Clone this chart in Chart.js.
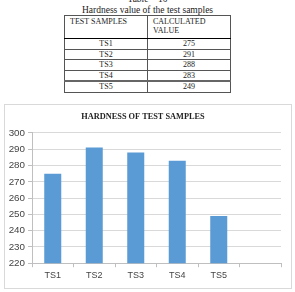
<!DOCTYPE html>
<html><head><meta charset="utf-8">
<script src="https://cdn.jsdelivr.net/npm/chart.js@4/dist/chart.umd.min.js"></script>
<style>
html,body{margin:0;padding:0;background:#fff;width:295px;height:292px;overflow:hidden;position:relative;font-family:"Liberation Serif","Times New Roman",serif;}
.cap{position:absolute;left:0;width:295px;text-align:center;font-size:9.5px;color:#222;line-height:10px;}
table{position:absolute;left:64px;top:15px;width:167px;border-collapse:collapse;font-size:8px;color:#222;}
td{border:1px solid #555;padding:0 5px;line-height:9px;height:9.5px;color:#222;}
td.c{text-align:center;}
tr.h td{vertical-align:top;height:21px;border-bottom:1.5px solid #000;padding-top:1px;}
tr.l td{border-top:2px solid #666;}
#box{position:absolute;left:4px;top:104px;width:286px;height:183px;border:1px solid #d9d9d9;}
canvas{position:absolute;left:5px;top:105px;}
</style></head><body>
<div class="cap" style="top:-6px">Table – 10</div>
<div class="cap" style="top:5px">Hardness value of the test samples</div>
<table id="tbl"></table>
<div id="box"></div>
<canvas id="c" width="285" height="182"></canvas>
<script>
const categories = ["TS1","TS2","TS3","TS4","TS5",""];
const hardness = [275, 291, 288, 283, 249, null];
const tableSamples = ["TS1","TS2","TS3","TS4","TS5"];
const tableValues = [275, 291, 288, 283, 249];

const tbl = document.getElementById('tbl');
let html = '<tr class="h"><td style="width:72px">TEST SAMPLES</td><td>CALCULATED<br>VALUE</td></tr>';
tableSamples.forEach((s,i)=>{
  html += '<tr'+(i===tableSamples.length-1?' class="l"':'')+'><td class="c">'+s+'</td><td class="c">'+tableValues[i]+'</td></tr>';
});
tbl.innerHTML = html;

new Chart(document.getElementById('c'), {
  type: 'bar',
  data: { labels: categories, datasets: [{ data: hardness, backgroundColor: '#5B9BD5', barPercentage: 0.41, categoryPercentage: 1 }] },
  options: {
    responsive: false, animation: false,
    layout: { padding: { top: 0, right: 9, bottom: 3, left: 0 } },
    plugins: {
      legend: { display: false }, tooltip: { enabled: false },
      title: { display: true, text: 'HARDNESS OF TEST SAMPLES', color: '#222',
        font: { family: '"Liberation Serif", serif', size: 8.3, weight: 'bold' }, padding: { top: 7, bottom: 11 } }
    },
    scales: {
      x: {
        grid: { display: true, drawOnChartArea: false, drawTicks: true, tickLength: 4, color: '#bfbfbf', offset: true },
        border: { display: true, color: '#bfbfbf' },
        ticks: { color: '#444', font: { family: '"Liberation Sans", sans-serif', size: 9 }, padding: 3 }
      },
      y: {
        min: 220, max: 300,
        afterFit: s => { s.width = 27; },
        grid: { color: '#d9d9d9', tickLength: 4, tickColor: '#bfbfbf' },
        border: { display: true, color: '#bfbfbf' },
        ticks: { stepSize: 10, color: '#444', font: { family: '"Liberation Sans", sans-serif', size: 9.8 }, padding: 3 }
      }
    }
  }
});
</script>
</body></html>
